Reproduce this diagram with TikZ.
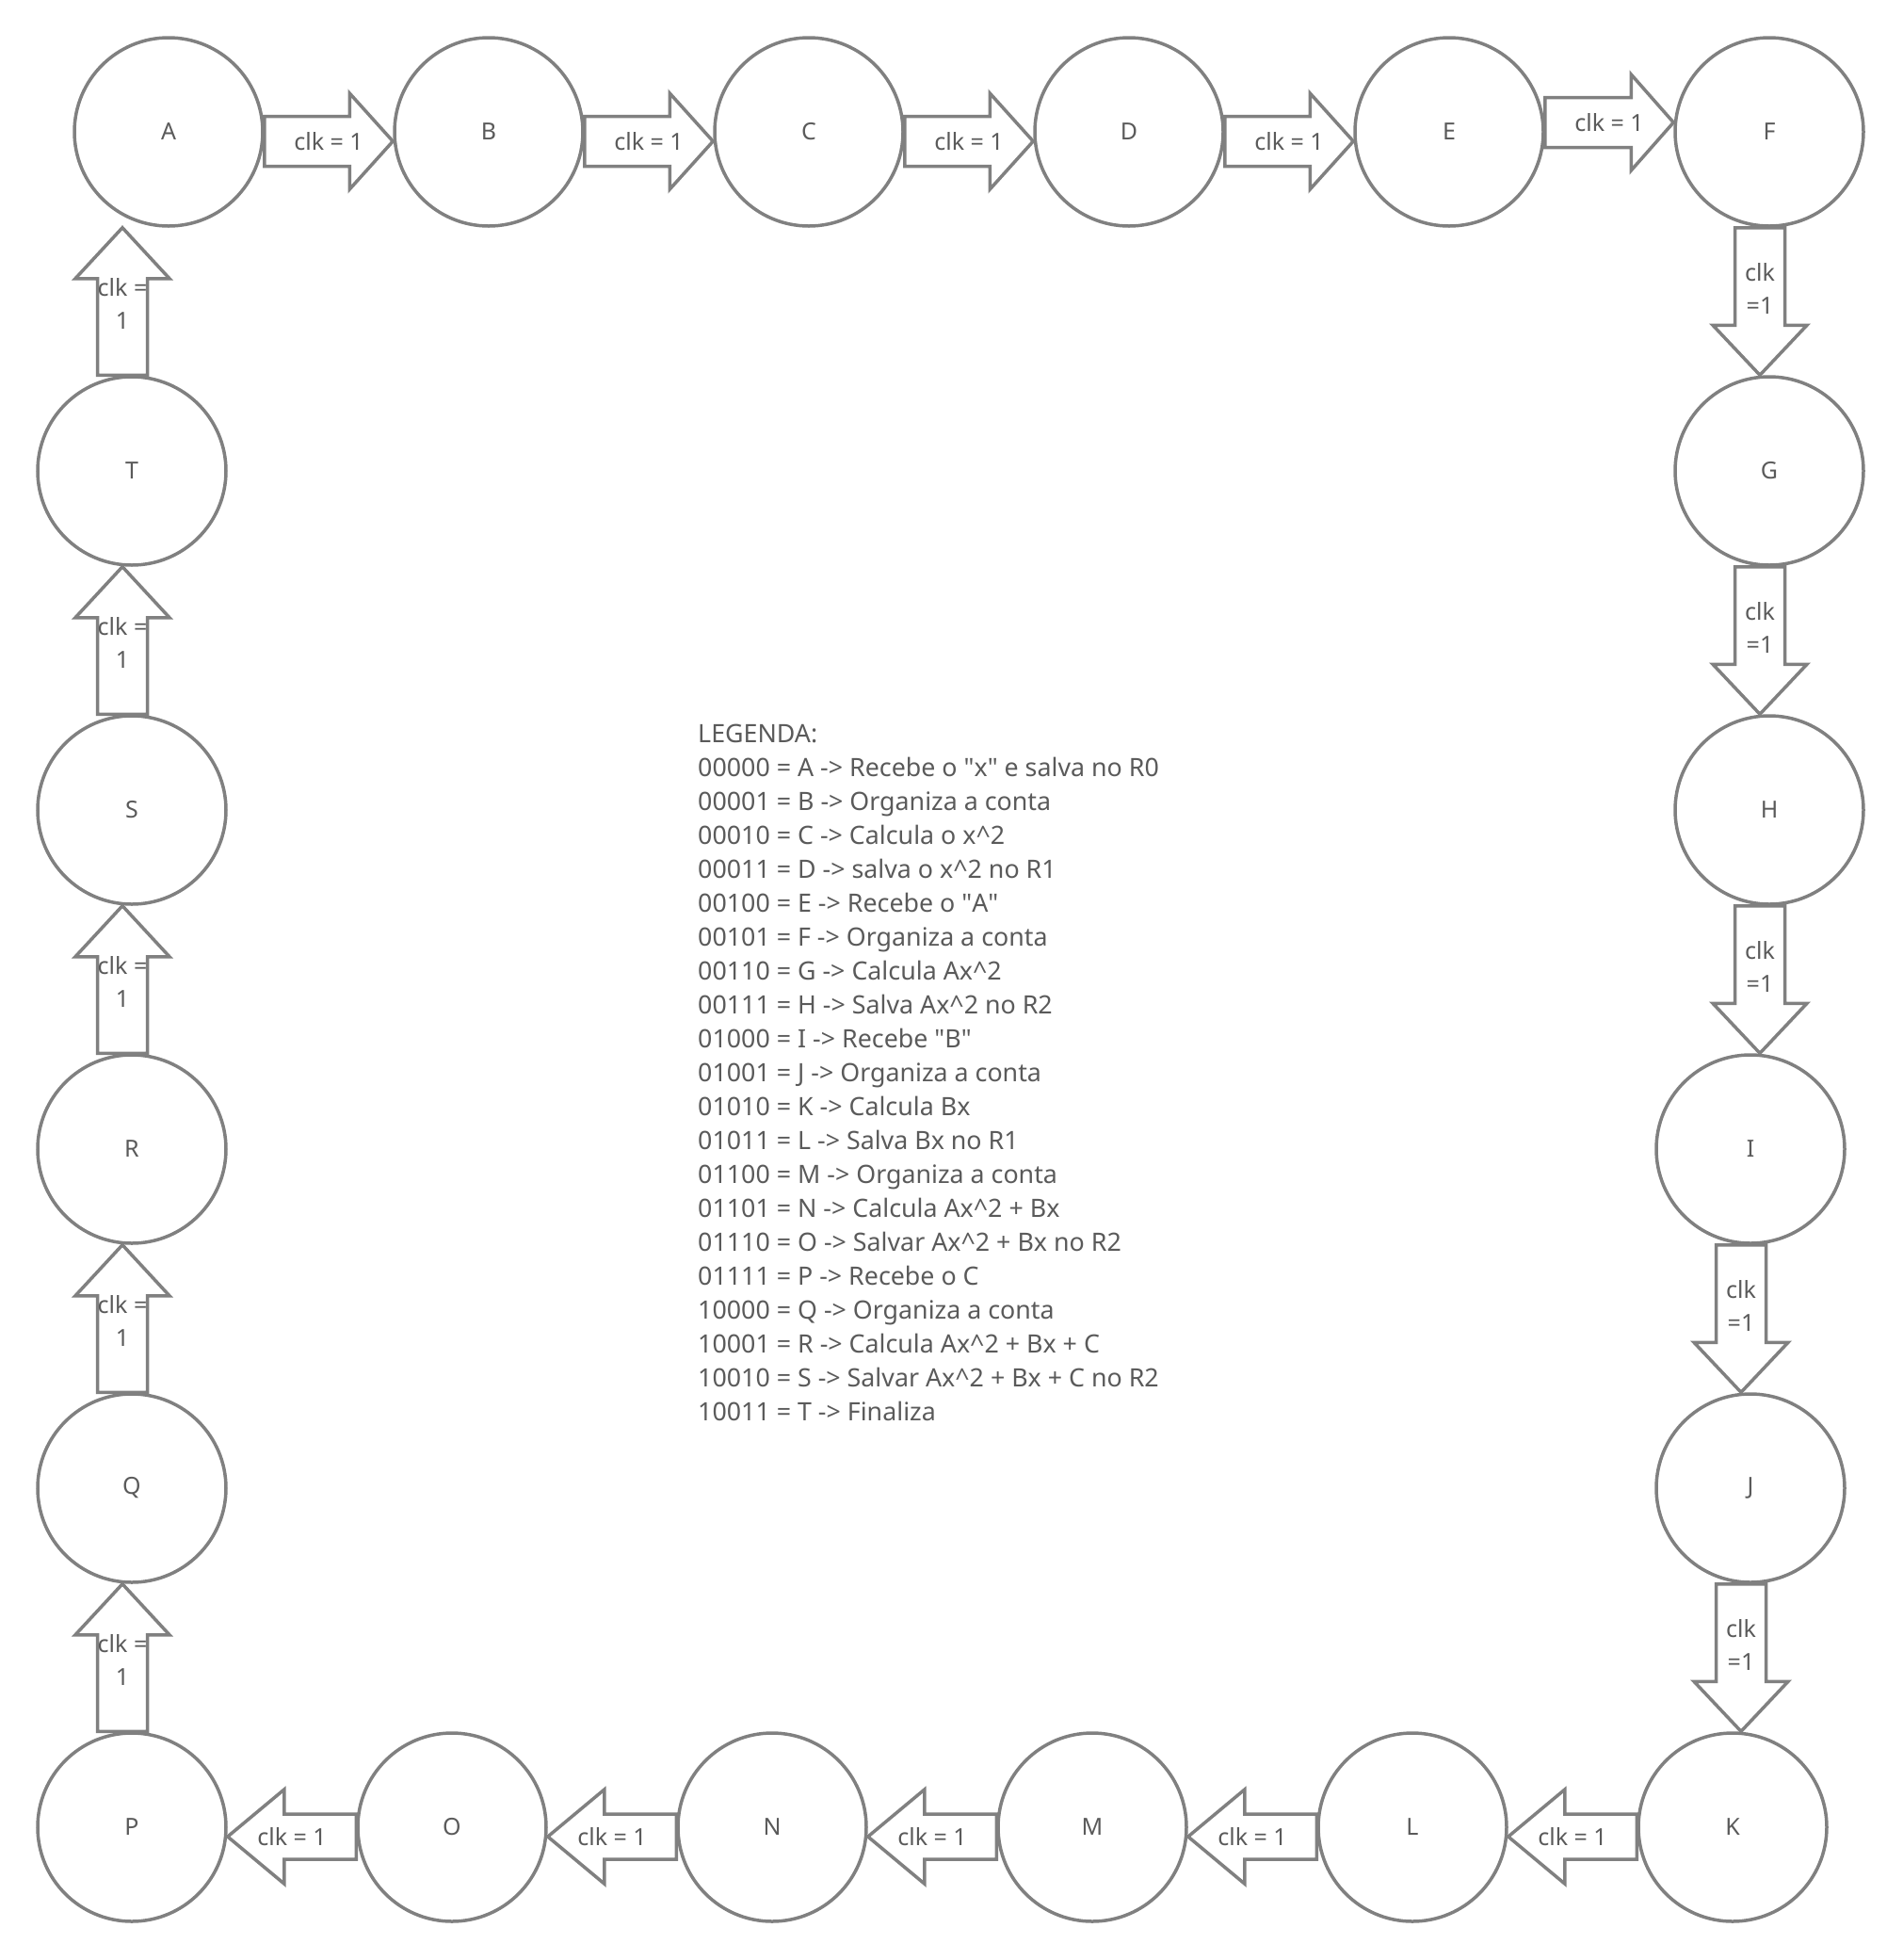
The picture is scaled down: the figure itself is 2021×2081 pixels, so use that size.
\documentclass[tikz,border=0pt]{standalone}
\usepackage{fontspec}
\setmainfont{Noto Sans}
\usetikzlibrary{calc}
\definecolor{lg}{HTML}{808080}
\definecolor{tg}{HTML}{5A5A5A}
\tikzset{
 st/.style={circle, draw=lg, line width=3.5pt, minimum size=200pt, inner sep=0pt, text=tg, font=\fontsize{25}{30}\selectfont},
 blk/.style={draw=lg, line width=3.5pt, line join=miter},
 lbl/.style={text=tg, font=\fontsize{25}{35}\selectfont, align=center, inner sep=0pt},
 leg/.style={text=tg, font=\fontsize{26.8}{36}\selectfont, inner sep=0pt, anchor=base west},
}
% right arrow: from, to, dy, head length
\newcommand\rarr[4]{%
 \draw[blk] let \p1=(#1.east), \p2=(#2.west), \n1={\y1+(#3)} in
 ({\x1},{\n1+26.5}) -- ({\x2-#4},{\n1+26.5}) -- ({\x2-#4},{\n1+51}) -- ({\x2},{\n1}) -- ({\x2-#4},{\n1-51}) -- ({\x2-#4},{\n1-26.5}) -- ({\x1},{\n1-26.5}) -- cycle
 ({(\x1+\x2)/2},{\n1}) node[lbl] {clk = 1};}
% left arrow
\newcommand\larr[4]{%
 \draw[blk] let \p1=(#1.west), \p2=(#2.east), \n1={\y1+(#3)} in
 ({\x1},{\n1+24}) -- ({\x2+#4},{\n1+24}) -- ({\x2+#4},{\n1+50}) -- ({\x2},{\n1}) -- ({\x2+#4},{\n1-50}) -- ({\x2+#4},{\n1-24}) -- ({\x1},{\n1-24}) -- cycle
 ({(\x1+\x2)/2},{\n1}) node[lbl] {clk = 1};}
% down arrow: from, to, dx, head length
\newcommand\darr[4]{%
 \draw[blk] let \p1=(#1.south), \p2=(#2.north), \n1={\x1+(#3)} in
 ({\n1-26.5},{\y1}) -- ({\n1-26.5},{\y2+#4}) -- ({\n1-50},{\y2+#4}) -- ({\n1},{\y2}) -- ({\n1+50},{\y2+#4}) -- ({\n1+26.5},{\y2+#4}) -- ({\n1+26.5},{\y1}) -- cycle
 ({\n1},{\y1-65}) node[lbl] {clk\\=1};}
% up arrow
\newcommand\uarr[4]{%
 \draw[blk] let \p1=(#1.north), \p2=(#2.south), \n1={\x1+(#3)} in
 ({\n1-26.5},{\y1}) -- ({\n1-26.5},{\y2-#4}) -- ({\n1-50},{\y2-#4}) -- ({\n1},{\y2}) -- ({\n1+50},{\y2-#4}) -- ({\n1+26.5},{\y2-#4}) -- ({\n1+26.5},{\y1}) -- cycle
 ({\n1},{\y2-80.5}) node[lbl] {clk =\\1};}
\begin{document}
\begin{tikzpicture}[x=1pt,y=1pt]
\useasboundingbox (0,0) rectangle (2021,-2081);
% states
\node[st] (A) at (179,-140) {A};
\node[st] (B) at (519,-140) {B};
\node[st] (C) at (859,-140) {C};
\node[st] (D) at (1199,-140) {D};
\node[st] (E) at (1539,-140) {E};
\node[st] (F) at (1879,-140) {F};
\node[st] (G) at (1879,-500) {G};
\node[st] (H) at (1879,-860) {H};
\node[st] (I) at (1859,-1220) {I};
\node[st] (J) at (1859,-1580) {J};
\node[st] (K) at (1840,-1940) {K};
\node[st] (L) at (1500,-1940) {L};
\node[st] (M) at (1160,-1940) {M};
\node[st] (N) at (820,-1940) {N};
\node[st] (O) at (480,-1940) {O};
\node[st] (P) at (140,-1940) {P};
\node[st] (Q) at (140,-1580) {Q};
\node[st] (R) at (140,-1220) {R};
\node[st] (S) at (140,-860) {S};
\node[st] (T) at (140,-500) {T};
% transitions
\rarr{A}{B}{-10}{46}
\rarr{B}{C}{-10}{46}
\rarr{C}{D}{-10}{46}
\rarr{D}{E}{-10}{46}
\rarr{E}{F}{10}{45}
\darr{F}{G}{-10}{53}
\darr{G}{H}{-10}{53}
\darr{H}{I}{-10}{53}
\darr{I}{J}{-10}{53}
\darr{J}{K}{-10}{53}
\larr{K}{L}{-10}{60}
\larr{L}{M}{-10}{60}
\larr{M}{N}{-10}{60}
\larr{N}{O}{-10}{60}
\larr{O}{P}{-10}{60}
\uarr{P}{Q}{-10}{54}
\uarr{Q}{R}{-10}{54}
\uarr{R}{S}{-10}{54}
\uarr{S}{T}{-10}{54}
\uarr{T}{A}{-10}{54}
% legend
\foreach \t [count=\i from 0] in {
 LEGENDA:,
 00000 = A -> Recebe o \textquotedbl x\textquotedbl{} e salva no R0,
 00001 = B -> Organiza a conta,
 00010 = C -> Calcula o x\textasciicircum 2,
 00011 = D -> salva o x\textasciicircum 2 no R1,
 00100 = E -> Recebe o \textquotedbl A\textquotedbl,
 00101 = F -> Organiza a conta,
 00110 = G -> Calcula Ax\textasciicircum 2,
 00111 = H -> Salva Ax\textasciicircum 2 no R2,
 01000 = I -> Recebe \textquotedbl B\textquotedbl,
 01001 = J -> Organiza a conta,
 01010 = K -> Calcula Bx,
 01011 = L -> Salva Bx no R1,
 01100 = M -> Organiza a conta,
 01101 = N -> Calcula Ax\textasciicircum 2 + Bx,
 01110 = O -> Salvar Ax\textasciicircum 2 + Bx no R2,
 01111 = P -> Recebe o C,
 10000 = Q -> Organiza a conta,
 10001 = R -> Calcula Ax\textasciicircum 2 + Bx + C,
 10010 = S -> Salvar Ax\textasciicircum 2 + Bx + C no R2,
 10011 = T -> Finaliza}
 \node[leg] (leg\i) at (741,-788-36*\i) {\t};
\end{tikzpicture}
\end{document}
